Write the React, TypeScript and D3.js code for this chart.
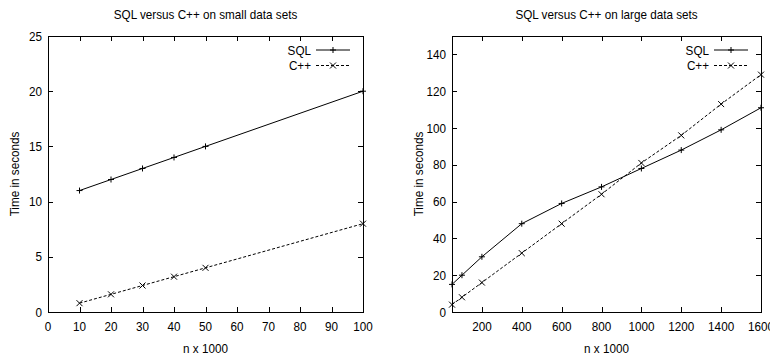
import React, { useEffect, useRef } from 'react';
import * as d3 from 'd3';

// small data sets
const smallN = [10, 20, 30, 40, 50, 100];
const smallSql = [11, 12, 13, 14, 15, 20];
const smallCpp = [0.8, 1.6, 2.4, 3.2, 4, 8];
const smallXTicks = [0, 10, 20, 30, 40, 50, 60, 70, 80, 90, 100];
const smallYTicks = [0, 5, 10, 15, 20, 25];

// large data sets
const largeN = [50, 100, 200, 400, 600, 800, 1000, 1200, 1400, 1600];
const largeSql = [15, 20, 30, 48, 59, 68, 78, 88, 99, 111];
const largeCpp = [4, 8, 16, 32, 48, 64, 81, 96, 113, 129];
const largeXTicks = [200, 400, 600, 800, 1000, 1200, 1400, 1600];
const largeYTicks = [0, 20, 40, 60, 80, 100, 120, 140];

const FONT = '"Liberation Sans", Arial, sans-serif';
const FS = 13;

type PanelProps = {
  ox: number;
  title: string;
  xs: number[];
  sql: number[];
  cpp: number[];
  xDomain: [number, number];
  yDomain: [number, number];
  xTicks: number[];
  yTicks: number[];
  frame: { left: number; right: number; top: number; bottom: number };
};

const Panel = ({ ox, title, xs, sql, cpp, xDomain, yDomain, xTicks, yTicks, frame }: PanelProps) => {
  const gRef = useRef<SVGGElement>(null);

  useEffect(() => {
    const g = d3.select(gRef.current);
    g.selectAll('*').remove();

    const x = d3.scaleLinear().domain(xDomain).range([frame.left, frame.right]);
    const y = d3.scaleLinear().domain(yDomain).range([frame.bottom, frame.top]);
    const tl = 5;

    // gnuplot-ish condensed text
    const label = (tx: number, ty: number, s: string | number, anchor = 'middle', rot = 0) =>
      g.append('text')
        .attr('transform', `translate(${tx},${ty}) rotate(${rot}) scale(0.9,1)`)
        .attr('text-anchor', anchor).attr('font-size', FS).text(s);

    // frame
    g.append('rect')
      .attr('x', frame.left + 0.5).attr('y', frame.top + 0.5)
      .attr('width', frame.right - frame.left).attr('height', frame.bottom - frame.top)
      .attr('fill', 'none').attr('stroke', '#000').attr('stroke-width', 1);

    // x ticks (bottom + mirrored top)
    xTicks.forEach(t => {
      const px = Math.round(x(t)) + 0.5;
      g.append('line').attr('x1', px).attr('x2', px).attr('y1', frame.bottom).attr('y2', frame.bottom - tl).attr('stroke', '#000');
      g.append('line').attr('x1', px).attr('x2', px).attr('y1', frame.top).attr('y2', frame.top + tl).attr('stroke', '#000');
      label(x(t), frame.bottom + 19, t);
    });

    // y ticks (left + mirrored right)
    yTicks.forEach(t => {
      const py = Math.round(y(t)) + 0.5;
      g.append('line').attr('x1', frame.left).attr('x2', frame.left + tl).attr('y1', py).attr('y2', py).attr('stroke', '#000');
      g.append('line').attr('x1', frame.right).attr('x2', frame.right - tl).attr('y1', py).attr('y2', py).attr('stroke', '#000');
      label(frame.left - 6, y(t) + 4.5, t, 'end');
    });

    const cx = (frame.left + frame.right) / 2;
    label(cx, 19, title);
    label(cx, 353, 'n x 1000');
    label(frame.left - 29, (frame.top + frame.bottom) / 2, 'Time in seconds', 'middle', -90);

    const line = d3.line<[number, number]>().x(d => x(d[0])).y(d => y(d[1]));
    const plus = (px: number, py: number) => {
      g.append('path').attr('d', `M${px - 3},${py}H${px + 3}M${px},${py - 3}V${py + 3}`).attr('stroke', '#000').attr('fill', 'none');
    };
    const cross = (px: number, py: number) => {
      g.append('path').attr('d', `M${px - 3},${py - 3}L${px + 3},${py + 3}M${px - 3},${py + 3}L${px + 3},${py - 3}`).attr('stroke', '#000').attr('fill', 'none');
    };

    g.append('path').datum(xs.map((v, i) => [v, sql[i]] as [number, number]))
      .attr('d', line).attr('fill', 'none').attr('stroke', '#000').attr('stroke-width', 1);
    g.append('path').datum(xs.map((v, i) => [v, cpp[i]] as [number, number]))
      .attr('d', line).attr('fill', 'none').attr('stroke', '#000').attr('stroke-width', 1).attr('stroke-dasharray', '3,2');
    xs.forEach((v, i) => plus(x(v), y(sql[i])));
    xs.forEach((v, i) => cross(x(v), y(cpp[i])));

    // legend
    const lx = frame.right - 47;
    [['SQL', 50, false], ['C++', 65.5, true]].forEach(([name, ly, dashed]) => {
      label(lx - 5, (ly as number) + 4.5, name as string, 'end');
      g.append('line').attr('x1', lx).attr('x2', lx + 34).attr('y1', ly as number).attr('y2', ly as number)
        .attr('stroke', '#000').attr('stroke-dasharray', dashed ? '3,2' : null);
      if (dashed) cross(lx + 17, ly as number); else plus(lx + 17, ly as number);
    });
  }, []);

  return <g ref={gRef} transform={`translate(${ox},0)`} fontFamily={FONT} fill="#000" />;
};

export default function App() {
  return (
    <svg width={770} height={356} style={{ position: 'absolute', left: 0, top: 0, background: '#fff' }}>
      <rect width={770} height={356} fill="#fff" />
      <Panel ox={0} title="SQL versus C++ on small data sets" xs={smallN} sql={smallSql} cpp={smallCpp}
        xDomain={[0, 100]} yDomain={[0, 25]} xTicks={smallXTicks} yTicks={smallYTicks}
        frame={{ left: 48, right: 363, top: 36, bottom: 312 }} />
      <Panel ox={385} title="SQL versus C++ on large data sets" xs={largeN} sql={largeSql} cpp={largeCpp}
        xDomain={[50, 1600]} yDomain={[0, 150]} xTicks={largeXTicks} yTicks={largeYTicks}
        frame={{ left: 67, right: 376, top: 36, bottom: 312 }} />
    </svg>
  );
}
